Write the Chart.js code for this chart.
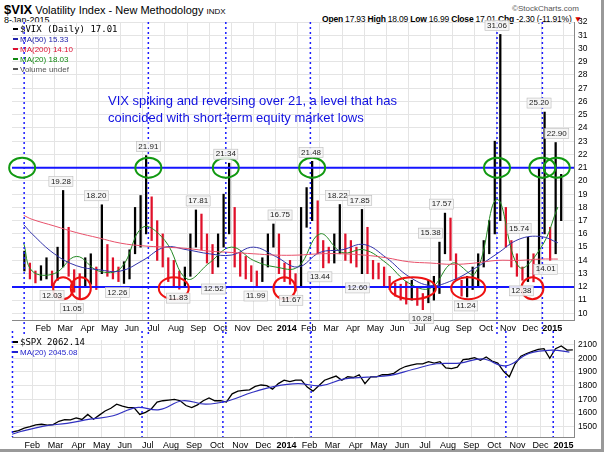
<!DOCTYPE html>
<html><head><meta charset="utf-8">
<script src="https://cdn.jsdelivr.net/npm/chart.js@4/dist/chart.umd.min.js"></script>
<style>
body{margin:0;background:#fff;font-family:"Liberation Sans",Arial,sans-serif;}
#wrap{position:relative;width:609px;height:455px;overflow:hidden;}
#frame{position:absolute;left:0;top:0;width:601px;height:449px;border-right:3px solid #999;border-bottom:3px solid #999;}
canvas{position:absolute;left:0;}
.t{position:absolute;white-space:nowrap;font-size:9px;color:#000;}
</style></head><body>
<div id="wrap"><div id="frame"></div>
<div class="t" style="left:4px;top:2px;font-size:11px;"><b style="font-size:13px">$VIX</b> Volatility Index - New Methodology <span style="font-size:8px">INDX</span></div>
<div class="t" style="left:4px;top:15px;">8-Jan-2015</div>
<div class="t" style="left:512px;top:4px;color:#555;font-size:8px">&copy;StockCharts.com</div>
<div class="t" style="left:322px;top:14px;font-size:8.5px;letter-spacing:-0.2px"><b>Open</b> 17.93 <b>High</b> 18.09 <b>Low</b> 16.99 <b>Close</b> 17.01 <b>Chg</b> -2.30 (-11.91%) <span style="color:#d00">&#9660;</span></div>
<canvas id="c1" width="600" height="336" style="top:0"></canvas>
<canvas id="c2" width="600" height="122" style="top:331px"></canvas>
</div>
<script>
// ---- data (x in months since 1-Jan-2013, 4 samples per month) ----
const monthLabels=["Feb","Mar","Apr","May","Jun","Jul","Aug","Sep","Oct","Nov","Dec","2014","Feb","Mar","Apr","May","Jun","Jul","Aug","Sep","Oct","Nov","Dec","2015"];
const vixLow=[13.2,12.6,12.3,12.5, 12.6,12.0,12.5,13.5, 12.8,11.6,11.05,12.0, 12.2,11.8,13.0,12.8, 12.6,12.4,12.26,12.6, 14.5,15.0,16.0,15.5, 14.0,13.5,12.4,12.0, 11.83,12.0,12.8,15.0, 14.8,13.8,13.0,13.5, 15.0,16.0,13.5,12.8, 12.6,12.4,11.99,12.4, 13.5,15.0,13.0,12.4,
 12.2,11.69,12.0,16.5, 17.0,14.5,13.44,13.8, 13.8,14.5,14.0,13.8, 13.5,13.0,13.0,12.6, 12.6,12.0,11.8,11.3, 11.0,10.7,11.0,10.6, 10.28,10.8,11.0,11.5, 14.5,14.0,12.5,11.3, 11.24,11.8,12.0,13.5, 14.5,16.0,17.0,15.0, 13.5,12.8,12.5,12.4, 12.38,13.0,16.0,14.01, 14.5,17.0];
const vixHigh=[14.7,13.8,13.2,13.6, 14.2,13.2,15.0,19.28, 16.5,13.3,13.0,14.2, 14.5,13.5,18.2,15.2, 14.2,13.5,13.9,14.8, 18.0,18.9,21.91,18.8, 17.0,16.0,14.2,14.0, 13.2,13.5,16.0,17.81, 17.5,16.0,15.2,16.0, 19.0,21.34,18.0,14.6, 14.3,13.6,13.2,14.2, 16.0,16.75,16.0,13.8,
 14.0,13.0,18.0,19.5, 21.48,18.5,15.5,15.0, 16.0,18.22,16.0,15.5, 15.0,17.85,16.5,14.0, 13.8,13.5,12.8,12.3, 12.2,12.4,12.5,12.0, 11.5,12.5,12.8,15.38, 17.57,17.2,14.5,12.5, 12.8,13.5,14.5,15.5, 17.0,23.0,31.06,18.0, 15.5,14.5,13.5,15.74, 14.5,21.0,25.2,16.5, 22.9,20.5];
const maMonths=[0.12,0.5,1.5,2.5,3.5,4.5,5.5,6.5,7.5,8.5,9.5,10.5,11.5,12.5,13.5,14.5,15.5,16.5,17.5,18.5,19.5,20.5,21.5,22.5,23.5,24.25];
const vixMa200=[17.4,17.1,16.6,16.1,15.7,15.3,15.1,15.0,14.9,14.7,14.6,14.5,14.4,14.4,14.5,14.5,14.4,14.2,13.9,13.8,13.7,13.8,14.0,14.0,14.1,14.1];
const vixMa50=[16.7,16.0,14.5,13.6,13.3,13.2,14.0,15.0,14.8,14.5,14.4,15.0,14.3,13.5,14.6,14.8,15.2,14.2,12.8,12.1,12.5,13.4,14.5,15.6,15.8,15.33];
const vixMa20=[15.3,13.2,13.0,14.3,13.2,13.4,16.5,15.5,12.6,13.8,15.0,14.0,13.5,13.5,16.0,14.6,14.8,13.8,12.3,11.9,13.8,13.0,18.6,13.5,15.0,18.03];
const spxClose=[1462,1472,1490,1500, 1513,1518,1512,1515, 1540,1552,1550,1565, 1553,1590,1555,1585, 1615,1635,1665,1650, 1640,1640,1590,1605, 1630,1680,1690,1695, 1700,1690,1655,1640, 1660,1690,1710,1690, 1690,1680,1740,1760, 1765,1770,1795,1805, 1800,1775,1815,1840,
 1830,1840,1840,1790, 1760,1800,1840,1855, 1870,1840,1865,1860, 1880,1815,1865,1865, 1880,1880,1890,1920, 1940,1950,1960,1960, 1975,1965,1975,1930, 1925,1935,1990,1995, 2005,1985,2010,1980, 1965,1905,1865,1960, 2015,2035,2050,2065, 2070,2000,2070,2090, 2060,2062];
const spxMa20=[1445,1465,1505,1525,1555,1580,1640,1625,1690,1665,1690,1750,1795,1815,1800,1850,1862,1875,1920,1960,1965,1995,1945,2035,2060,2045];
const peakX=[1.8,1.4,2.3,3.4,4.35,5.75,7.1,8.0,8.7,9.25,10.6,11.7,12.2,13.1,13.5,14.3,15.3,15.2,18.5,18.1,19.0,20.1,21.5,22.5,22.6,23.4,23.7,24.2];
const peakV=[19.28,12.03,11.05,18.20,12.26,21.91,11.83,17.81,12.52,21.34,11.99,16.75,11.67,21.48,13.44,18.22,17.85,12.60,15.38,10.28,17.57,11.24,31.06,15.74,12.38,25.20,14.01,22.90];
const peakBelow=[0,1,1,0,1,0,1,0,1,0,1,0,1,0,1,0,0,1,0,1,0,1,0,0,1,0,1,0];
const spikeX=[0.14,5.75,9.25,13.07,21.5,23.55];
const greenX=[0.05,5.75,9.25,13.15,21.5,23.55,24.2];
const redX=[1.9,2.7,6.9,11.9,17.7,20.2,23.1];
const redW=[20,20,30,22,46,34,22];

const X=i=>Math.floor(i/4)+(i%4)/4+0.15;
const xmin=0.12,xmax=24.45;
const fontS='"Liberation Sans",Arial,sans-serif';
Chart.defaults.animation=false;
Chart.defaults.font.family=fontS;Chart.defaults.font.size=9;Chart.defaults.color='#000';
function xAxis(){return {type:'linear',min:xmin,max:xmax,
 afterBuildTicks:s=>{s.ticks=monthLabels.map((l,i)=>({value:i+1}));},
 afterFit:s=>{s.height=16;},
 grid:{color:'#e4e4e4',drawTicks:false},border:{color:'#888'},
 ticks:{padding:3,maxRotation:0,autoSkip:false,callback:v=>monthLabels[v-1],
  font:c=>({size:9,weight:(c.tick&&/^20/.test(monthLabels[c.tick.value-1]))?'bold':'normal'})}};}
function yAxis(min,max,step){return {position:'right',min,max,afterFit:s=>{s.width=26;},
 afterBuildTicks:s=>{const t=[];for(let v=Math.ceil(min/step)*step;v<=max;v+=step)t.push({value:v});s.ticks=t;},
 grid:{color:'#e4e4e4',drawTicks:false},border:{color:'#888'},ticks:{padding:4,autoSkip:false,font:{size:8.5},callback:v=>String(v)}};}
function dots(ch,x,y0,y1){const c=ch.ctx;c.save();c.strokeStyle='#1a1aff';c.lineWidth=1.5;c.setLineDash([2,3]);
 spikeX.forEach(m=>{const px=ch.scales.x.getPixelForValue(m);c.beginPath();c.moveTo(px,y0);c.lineTo(px,y1);c.stroke();});c.restore();}

const over1={id:'o1',afterDatasetsDraw(ch){const c=ch.ctx,xs=ch.scales.x,ys=ch.scales.y,a=ch.chartArea;
 c.save();c.beginPath();c.rect(a.left-12,0,a.right-a.left+14,ch.height);c.clip();
 c.strokeStyle='#1515ff';c.lineWidth=2;[21,12].forEach(v=>{const py=ys.getPixelForValue(v);c.beginPath();c.moveTo(a.left,py);c.lineTo(a.right,py);c.stroke();});
 dots(ch,0,a.top,ch.height);
 c.lineWidth=2;c.strokeStyle='#119911';greenX.forEach(m=>{c.beginPath();c.ellipse(xs.getPixelForValue(m),ys.getPixelForValue(21),13,10,0,0,7);c.stroke();});
 c.strokeStyle='#ee1111';redX.forEach((m,i)=>{c.beginPath();c.ellipse(xs.getPixelForValue(m),ys.getPixelForValue(11.9),redW[i]/2,11,0,0,7);c.stroke();});
 c.font='8px '+fontS;c.textAlign='center';c.textBaseline='middle';
 peakX.forEach((m,i)=>{const px=xs.getPixelForValue(m);let py=ys.getPixelForValue(peakV[i])+(peakBelow[i]?9:-9);const t=peakV[i].toFixed(2);const w=c.measureText(t).width+4;
  c.fillStyle='rgba(245,245,245,0.9)';c.fillRect(px-w/2,py-5,w,10);c.strokeStyle='#bbb';c.lineWidth=0.6;c.strokeRect(px-w/2,py-5,w,10);c.fillStyle='#222';c.fillText(t,px,py);});
 c.restore();
 c.save();c.font='13px '+fontS;c.fillStyle='#1010e0';c.textAlign='left';c.textBaseline='alphabetic';
 c.fillText('VIX spiking and reversing over 21, a level that has',108,105);c.fillText('coincided with short-term equity market lows',108,122);
 const L=[['#000','$VIX (Daily) 17.01'],['#2222aa','MA(50) 15.33'],['#dd1133','MA(200) 14.10'],['#118811','MA(20) 18.03'],['#555','Volume undef']];
 L.forEach((l,i)=>{const y=29+i*10;c.fillStyle=l[0];c.fillRect(13,y-1,5,2);c.font=(i==0?'9px "DejaVu Sans Mono",monospace':'8px '+fontS);c.fillText(l[1],20,y+3);});
 c.restore();}};
const vixBars=vixLow.map((l,i)=>({x:X(i),y:[l,vixHigh[i]]}));
const vixCol=vixLow.map((l,i)=>{const m=(l+vixHigh[i])/2,p=i?(vixLow[i-1]+vixHigh[i-1])/2:m;return m<p?'#e0102a':'#000';});
const pts=(xs,ys)=>ys.map((v,i)=>({x:xs[i],y:v}));
new Chart(document.getElementById('c1'),{type:'bar',data:{datasets:[
 {type:'line',data:pts(maMonths,vixMa200),borderColor:'#e8506a',borderWidth:1,pointRadius:0,tension:0.4},
 {type:'line',data:pts(maMonths,vixMa50),borderColor:'#3333aa',borderWidth:1,pointRadius:0,tension:0.4},
 {type:'line',data:pts(maMonths,vixMa20),borderColor:'#228822',borderWidth:1,pointRadius:0,tension:0.4},
 {data:vixBars,backgroundColor:vixCol,barThickness:1.6}]},
 options:{responsive:false,layout:{padding:{left:12,top:22,right:0,bottom:0}},plugins:{legend:{display:false},tooltip:{enabled:false}},
 scales:{x:xAxis(),y:yAxis(9.5,32,1)}},plugins:[over1]});

const over2={id:'o2',afterDatasetsDraw(ch){const c=ch.ctx,a=ch.chartArea;dots(ch,0,0,a.bottom);
 c.save();c.font='9px "DejaVu Sans Mono",monospace';c.fillStyle='#000';c.fillRect(13,10,5,2);c.fillText('$SPX 2062.14',20,14);
 c.fillStyle='#2222cc';c.fillRect(13,20,5,2);c.font='8px '+fontS;c.fillText('MA(20) 2045.08',20,24);c.restore();}};
new Chart(document.getElementById('c2'),{type:'line',data:{datasets:[
 {data:pts(maMonths,spxMa20),borderColor:'#3030c0',borderWidth:1.2,pointRadius:0,tension:0.4},
 {data:spxClose.map((v,i)=>({x:X(i),y:v})),borderColor:'#000',borderWidth:1.3,pointRadius:0,tension:0}]},
 options:{responsive:false,layout:{padding:{left:12,top:4,right:0,bottom:0}},plugins:{legend:{display:false},tooltip:{enabled:false}},
 scales:{x:xAxis(),y:yAxis(1425,2133,100)}},plugins:[over2]});
</script></body></html>
